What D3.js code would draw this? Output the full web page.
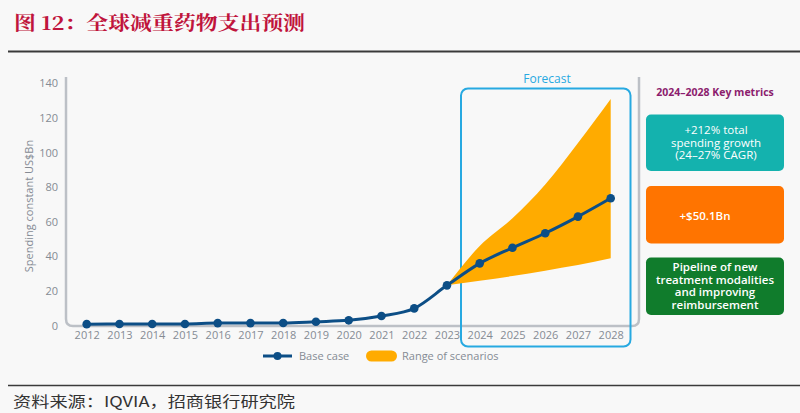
<!DOCTYPE html>
<html><head><meta charset="utf-8">
<script src="https://cdn.jsdelivr.net/npm/d3@7"></script>
<style>
html,body{margin:0;padding:0;background:#f8f8f8;}
svg{display:block;}
</style></head>
<body>
<svg id="chart" width="800" height="413"></svg>
<script>
const years = [2012,2013,2014,2015,2016,2017,2018,2019,2020,2021,2022,2023,2024,2025,2026,2027,2028];
const baseCase = [0.9,1.0,1.0,1.0,1.5,1.5,1.6,2.3,3.1,5.6,10.0,23.3,36.0,45.0,53.4,63.0,73.6];
const rangeYears = [2023,2024,2025,2026,2027,2028];
const rangeLow  = [23.3,26.0,28.7,31.8,35.0,38.9];
const rangeHigh = [23.3,46.0,62.0,81.5,105.5,131.0];
const yTicks = [0,20,40,60,80,100,120,140];
const titleText = "图 12：全球减重药物支出预测";
const sourceText = "资料来源：IQVIA，招商银行研究院";
const yTitle = "Spending constant US$Bn";
const legendLabels = ["Base case","Range of scenarios"];
const panelTitle = "2024–2028 Key metrics";
const metricTexts = [
  ["+212% total","spending growth","(24–27% CAGR)"],
  ["+$50.1Bn"],
  ["Pipeline of new","treatment modalities","and improving","reimbursement"]
];

const svg = d3.select("#chart");
const font = "'Open Sans', 'DejaVu Sans', sans-serif";
const grey = "#858b94";

// header
svg.append("text").attr("x",14).attr("y",30)
  .attr("font-family","'Noto Serif CJK SC','Noto Sans CJK SC',serif")
  .attr("font-weight","bold").attr("font-size",19).attr("fill","#c0143c")
  .attr("textLength",291).attr("lengthAdjust","spacingAndGlyphs")
  .text(titleText);
svg.append("line").attr("x1",8).attr("x2",800).attr("y1",51.5).attr("y2",51.5)
  .attr("stroke","#3a3a3a").attr("stroke-width",2);
svg.append("line").attr("x1",8).attr("x2",800).attr("y1",385.5).attr("y2",385.5)
  .attr("stroke","#3a3a3a").attr("stroke-width",1.5);
svg.append("text").attr("x",13).attr("y",407)
  .attr("font-family","'Noto Sans CJK SC',sans-serif")
  .attr("font-size",15).attr("fill","#333")
  .attr("textLength",282).attr("lengthAdjust","spacingAndGlyphs")
  .text(sourceText);

// scales
const x = d3.scaleLinear().domain([2012,2028]).range([86.7,610.7]);
const y = d3.scaleLinear().domain([0,140]).range([325.7,83.3]);

// grey frame
const fx0 = 66, fx1 = 639, fy0 = 77, fy1 = 326, r = 7;
svg.append("path")
  .attr("d",`M${fx0},${fy0} V${fy1-r} Q${fx0},${fy1} ${fx0+r},${fy1} H${fx1-r} Q${fx1},${fy1} ${fx1},${fy1-r} V${fy0}`)
  .attr("fill","none").attr("stroke","#bcc0c6").attr("stroke-width",2.5);

// forecast box
svg.append("rect").attr("x",461).attr("y",88.5).attr("width",169.5).attr("height",258)
  .attr("rx",7).attr("fill","none").attr("stroke","#27a9e1").attr("stroke-width",2);
svg.append("text").attr("x",547).attr("y",83).attr("text-anchor","middle")
  .attr("font-family",font).attr("font-size",12).attr("fill","#27a9e1").text("Forecast");

// axes
const yAxis = svg.append("g").attr("transform",`translate(${fx0},0)`)
  .call(d3.axisLeft(y).tickValues(yTicks).tickSize(0).tickPadding(8));
yAxis.select(".domain").remove();
yAxis.selectAll("text").attr("font-family",font).attr("font-size",11).attr("fill",grey);

const xAxis = svg.append("g").attr("transform",`translate(0,${fy1})`)
  .call(d3.axisBottom(x).tickValues(years).tickFormat(d3.format("d")).tickSize(0).tickPadding(5));
xAxis.select(".domain").remove();
xAxis.selectAll("text").attr("font-family",font).attr("font-size",11).attr("fill",grey);

svg.append("text").attr("transform","translate(33,206) rotate(-90)")
  .attr("text-anchor","middle").attr("font-family",font).attr("font-size",11).attr("fill",grey)
  .text(yTitle);

// range area
const rangeData = rangeYears.map((yr,i)=>({yr, lo:rangeLow[i], hi:rangeHigh[i]}));
svg.append("path").datum(rangeData)
  .attr("d", d3.area().x(d=>x(d.yr)).y0(d=>y(d.lo)).y1(d=>y(d.hi)).curve(d3.curveMonotoneX))
  .attr("fill","#ffab00");

// base case
const baseData = years.map((yr,i)=>({yr, v:baseCase[i]}));
svg.append("path").datum(baseData)
  .attr("d", d3.line().x(d=>x(d.yr)).y(d=>y(d.v)).curve(d3.curveMonotoneX))
  .attr("fill","none").attr("stroke","#0c4e86").attr("stroke-width",3);
svg.selectAll("circle.pt").data(baseData).join("circle").attr("class","pt")
  .attr("cx",d=>x(d.yr)).attr("cy",d=>y(d.v)).attr("r",4.3).attr("fill","#0c4e86");

// legend
const lg = svg.append("g");
lg.append("line").attr("x1",263).attr("x2",292).attr("y1",356).attr("y2",356)
  .attr("stroke","#0c4e86").attr("stroke-width",3);
lg.append("circle").attr("cx",277.5).attr("cy",356).attr("r",4).attr("fill","#0c4e86");
lg.append("text").attr("x",299).attr("y",360).attr("font-family",font).attr("font-size",11)
  .attr("fill",grey).text(legendLabels[0]);
lg.append("rect").attr("x",366).attr("y",350.5).attr("width",31).attr("height",11).attr("rx",5.5)
  .attr("fill","#ffab00");
lg.append("text").attr("x",402).attr("y",360).attr("font-family",font).attr("font-size",11)
  .attr("fill",grey).text(legendLabels[1]);

// right panel
svg.append("text").attr("x",715).attr("y",95.5).attr("text-anchor","middle")
  .attr("font-family",font).attr("font-weight","bold").attr("font-size",10.5).attr("fill","#8c1d6e")
  .text(panelTitle);
const boxes = [
  {y0:114.5, y1:171, fill:"#14b2ae", weight:"normal", size:11.5, cx:716, lineY:[134,146.5,159]},
  {y0:186, y1:243.5, fill:"#ff7400", weight:"600", size:11.5, cx:705, lineY:[219.5]},
  {y0:257.5, y1:315, fill:"#107c2c", weight:"600", size:11.5, cx:715, lineY:[271,283.5,296,308.5]}
];
boxes.forEach((b,i)=>{
  svg.append("rect").attr("x",646).attr("y",b.y0).attr("width",138).attr("height",b.y1-b.y0)
    .attr("rx",5).attr("fill",b.fill);
  metricTexts[i].forEach((t,j)=>{
    svg.append("text").attr("x",b.cx).attr("y",b.lineY[j]).attr("text-anchor","middle")
      .attr("font-family",font).attr("font-size",b.size).attr("font-weight",b.weight)
      .attr("fill","#ffffff").text(t);
  });
});
</script>
</body></html>
